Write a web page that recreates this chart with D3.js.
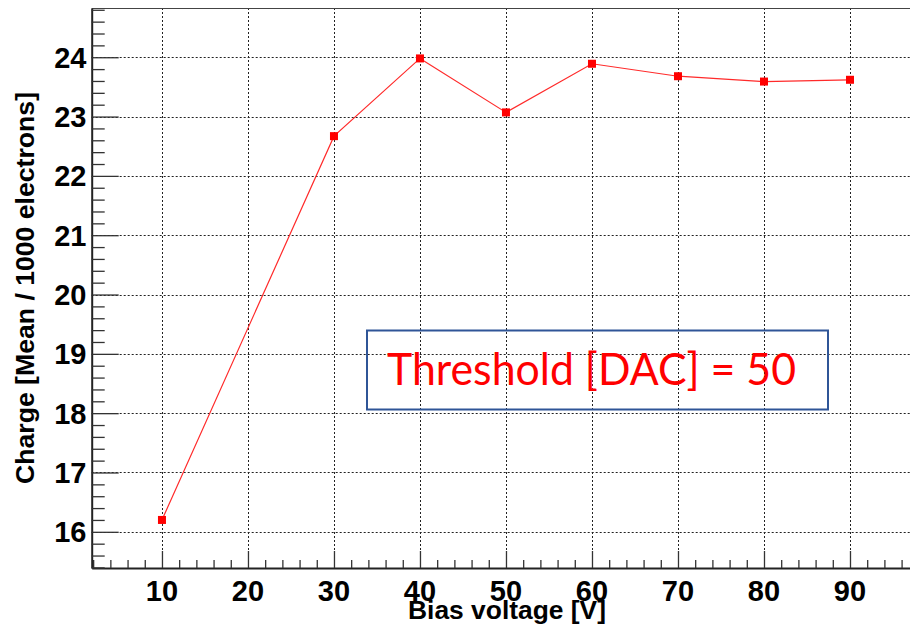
<!DOCTYPE html>
<html>
<head>
<meta charset="utf-8">
<script src="https://cdn.jsdelivr.net/npm/d3@7"></script>
<style>
  body { margin: 0; background: #fff; }
  svg { display: block; }
</style>
</head>
<body>
<div id="chart"></div>
<script>
// data
var voltages = [10, 30, 40, 50, 60, 70, 80, 90];
var charges = [16.2, 22.67, 23.98, 23.07, 23.89, 23.68, 23.59, 23.62];
var xTicks = [10, 20, 30, 40, 50, 60, 70, 80, 90];
var yTicks = [16, 17, 18, 19, 20, 21, 22, 23, 24];
var xTitle = "Bias voltage [V]";
var yTitle = "Charge [Mean / 1000 electrons]";
var boxLabel = "Threshold [DAC] = 50";

var W = 910, H = 629;
var plot = { left: 91.7, right: 918.8, top: 8, bottom: 568 };

var svg = d3.select("#chart")
  .append("svg")
  .attr("width", W)
  .attr("height", H);

var x = d3.scaleLinear()
  .domain([1.83, 98])
  .range([plot.left, plot.right]);

var y = d3.scaleLinear()
  .domain([15.39, 24.83])
  .range([plot.bottom, plot.top]);

// grid (dotted)
var grid = svg.append("g")
  .attr("stroke", "#222")
  .attr("stroke-width", 1)
  .attr("stroke-dasharray", "2,2");

grid.selectAll("line.gx")
  .data(xTicks)
  .enter().append("line")
  .attr("x1", d => Math.round(x(d)) + 0.5)
  .attr("x2", d => Math.round(x(d)) + 0.5)
  .attr("y1", plot.top)
  .attr("y2", plot.bottom);

grid.selectAll("line.gy")
  .data(yTicks)
  .enter().append("line")
  .attr("x1", plot.left)
  .attr("x2", plot.right)
  .attr("y1", d => Math.round(y(d)) + 0.5)
  .attr("y2", d => Math.round(y(d)) + 0.5);

// frame top
svg.append("line")
  .attr("x1", plot.left).attr("x2", plot.right)
  .attr("y1", plot.top + 0.5).attr("y2", plot.top + 0.5)
  .attr("stroke", "#444").attr("stroke-width", 1.2);

// x axis, ticks inward
var xMinor = d3.range(2, 99, 2);
var xAxis = d3.axisBottom(x)
  .tickValues(xMinor)
  .tickSizeInner(-8)
  .tickSizeOuter(0)
  .tickFormat("");
var gx = svg.append("g")
  .attr("transform", "translate(0," + plot.bottom + ")")
  .call(xAxis);
gx.selectAll(".tick line")
  .attr("y2", d => xTicks.indexOf(d) >= 0 ? -17 : -8)
  .attr("stroke", "#333")
  .attr("stroke-width", 1.3);
gx.select(".domain").attr("stroke", "#222").attr("stroke-width", 2);

svg.append("g")
  .selectAll("text")
  .data(xTicks)
  .enter().append("text")
  .attr("x", d => x(d))
  .attr("y", 601)
  .attr("text-anchor", "middle")
  .attr("font-family", "Liberation Sans, Arial, sans-serif")
  .attr("font-weight", "bold")
  .attr("font-size", 29)
  .text(d => d);

// y axis, ticks inward
var yMinor = d3.range(15.4, 24.81, 0.2).map(v => Math.round(v * 10) / 10);
var yAxis = d3.axisLeft(y)
  .tickValues(yMinor)
  .tickSizeInner(-13)
  .tickSizeOuter(0)
  .tickFormat("");
var gy = svg.append("g")
  .attr("transform", "translate(" + plot.left + ",0)")
  .call(yAxis);
gy.selectAll(".tick line")
  .attr("x2", d => yTicks.indexOf(d) >= 0 ? 27 : 13)
  .attr("stroke", "#333")
  .attr("stroke-width", 1.3);
gy.select(".domain").attr("stroke", "#222").attr("stroke-width", 2);

svg.append("g")
  .selectAll("text")
  .data(yTicks)
  .enter().append("text")
  .attr("x", 86.5)
  .attr("y", d => y(d) + 10.5)
  .attr("text-anchor", "end")
  .attr("font-family", "Liberation Sans, Arial, sans-serif")
  .attr("font-weight", "bold")
  .attr("font-size", 29)
  .text(d => d);

// axis titles
svg.append("text")
  .attr("x", 507)
  .attr("y", 619)
  .attr("text-anchor", "middle")
  .attr("font-family", "Liberation Sans, Arial, sans-serif")
  .attr("font-weight", "bold")
  .attr("font-size", 25)
  .attr("textLength", 198)
  .attr("lengthAdjust", "spacingAndGlyphs")
  .text(xTitle);

svg.append("text")
  .attr("transform", "translate(34,288) rotate(-90)")
  .attr("text-anchor", "middle")
  .attr("font-family", "Liberation Sans, Arial, sans-serif")
  .attr("font-weight", "bold")
  .attr("font-size", 26)
  .attr("textLength", 392)
  .attr("lengthAdjust", "spacingAndGlyphs")
  .text(yTitle);

// data line + markers
var line = d3.line()
  .x((d, i) => x(voltages[i]))
  .y(d => y(d));

svg.append("path")
  .datum(charges)
  .attr("d", line)
  .attr("fill", "none")
  .attr("stroke", "#ff2a2a")
  .attr("stroke-width", 1.2);

svg.append("g")
  .selectAll("rect")
  .data(charges)
  .enter().append("rect")
  .attr("x", (d, i) => x(voltages[i]) - 4)
  .attr("y", d => y(d) - 4)
  .attr("width", 8)
  .attr("height", 8)
  .attr("fill", "#ff0000");

// label box
var lb = svg.append("g");
lb.append("rect")
  .attr("x", 367)
  .attr("y", 330.5)
  .attr("width", 461)
  .attr("height", 79)
  .attr("fill", "none")
  .attr("stroke", "#2f5597")
  .attr("stroke-width", 2);
lb.append("text")
  .attr("x", 387)
  .attr("y", 385)
  .attr("font-family", "Lato, 'Open Sans', sans-serif")
  .attr("font-size", 44)
  .attr("fill", "#ff0000")
  .attr("textLength", 409)
  .attr("lengthAdjust", "spacingAndGlyphs")
  .text(boxLabel);
</script>
</body>
</html>
